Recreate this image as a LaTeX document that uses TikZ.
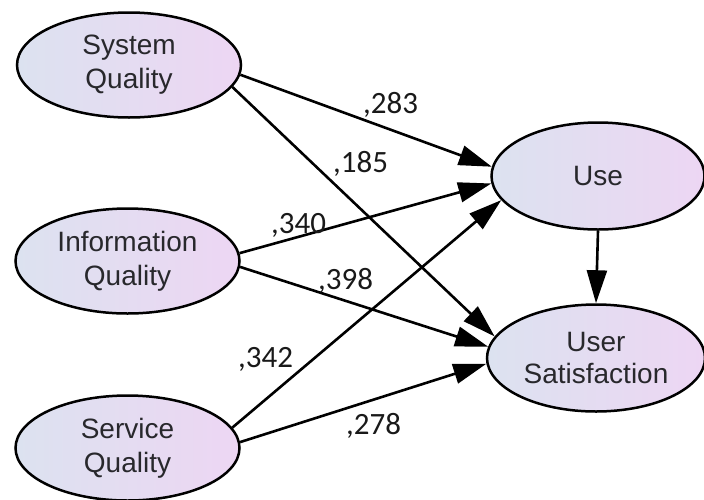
\documentclass[tikz,border=0pt]{standalone}
\usepackage{fontspec}
\setmainfont{Liberation Sans}
\newfontfamily\numfont{Carlito}
\usetikzlibrary{arrows.meta,shapes.geometric}
\definecolor{ellL}{RGB}{220,226,240}
\definecolor{ellR}{RGB}{237,214,243}
\definecolor{txtgray}{RGB}{40,40,44}
\definecolor{numgray}{RGB}{25,25,25}
\begin{document}
\begin{tikzpicture}[x=1pt,y=-1pt,
  latent/.style={ellipse, draw=black, line width=2.5pt, left color=ellL, right color=ellR,
    minimum width=224pt, minimum height=105pt, inner sep=0pt, align=center,
    font=\fontsize{28}{34}\selectfont, text=txtgray},
  arr/.style={line width=2.6pt, -{Triangle[length=33pt,width=20pt]}},
  coef/.style={anchor=base west, inner sep=0pt, text=numgray, font=\numfont\fontsize{31}{36}\selectfont}]
\useasboundingbox (0,0) rectangle (704,499);
\clip (0,0) rectangle (704,499);
\node[latent] (sys) at (129,65) {System\\Quality};
\node[latent] (info) at (127.5,261) {Information\\Quality};
\node[latent] (serv) at (127.5,448) {Service\\Quality};
\node[latent, minimum width=213pt, minimum height=107pt] (use) at (598,176) {Use};
\node[latent, minimum width=218pt, minimum height=107pt, font=\fontsize{28}{32}\selectfont] (us) at (596,358) {User\\Satisfaction};
\draw[arr] (sys.-5.7) -- (use.175.7);
\draw[arr] (sys.-12.5) -- (us.168.8);
\draw[arr] (info.4.1) -- (use.184.8);
\draw[arr] (info.-3.1) -- (us.174.7);
\draw[arr] (serv.11.3) -- (use.194.6);
\draw[arr] (serv.3.1) -- (us.183.7);
\draw[arr] (use.south) -- (us.north);
\node[coef] (c283) at (363,113) {,283};
\node[coef] (c185) at (333,172) {,185};
\node[coef] (c340) at (271,233) {,340};
\node[coef] (c398) at (318,289) {,398};
\node[coef] (c342) at (238,367) {,342};
\node[coef] (c278) at (346,434) {,278};
\end{tikzpicture}
\end{document}
